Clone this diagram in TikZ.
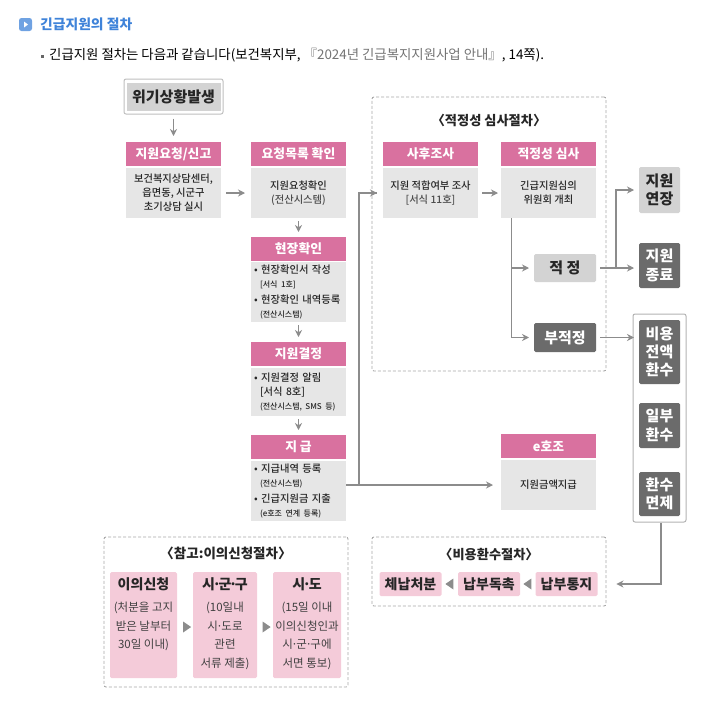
\documentclass[tikz,border=0pt]{standalone}
\usepackage{fontspec}
\setmainfont{Noto Sans CJK KR}
\newfontfamily\medfont{Noto Sans CJK KR Medium}
\usepackage{xcolor}
\usetikzlibrary{arrows.meta,positioning,shapes.geometric}
\definecolor{rosehd}{HTML}{D9719F}
\definecolor{graybd}{HTML}{E6E6E6}
\definecolor{graylt}{HTML}{D3D3D3}
\definecolor{graydk}{HTML}{6B6B6B}
\definecolor{linegr}{HTML}{8C8C8C}
\definecolor{rosebx}{HTML}{F4CBD9}
\definecolor{bluehd}{HTML}{3F83D9}
\newcommand{\fs}[1]{\fontsize{#1}{1.35\dimexpr#1pt\relax}\selectfont}
\newcommand{\mdot}{\kern-2.5pt·\kern-2.5pt}
\newcommand{\sdot}{\kern-1.5pt·\kern-1.5pt}

\begin{document}
\begin{tikzpicture}[x=1pt,y=-1pt,>={Stealth[length=7pt,width=7pt]},node distance=2pt,
  head/.style={fill=rosehd,text=white,font=\fs{12.8}\bfseries,minimum width=95pt,minimum height=24pt,inner sep=0pt,outer sep=0pt},
  body/.style={fill=graybd,text=black!85,font=\medfont\fs{10.3},minimum width=95pt,align=center,inner sep=0pt,outer sep=0pt},
  note/.style={body,align=left,text width=89pt,inner xsep=3pt},
  light/.style={fill=graylt,rounded corners=1.5pt,text=black!85,font=\fs{15}\bfseries,align=center,inner sep=0pt,outer sep=0pt},
  dark/.style={fill=graydk,rounded corners=1.5pt,text=white,font=\fs{15}\bfseries,align=center,inner sep=0pt,outer sep=0pt},
  dashbox/.style={draw=black!35,densely dashed,line width=.9pt,rounded corners=2pt,inner sep=0pt},
  title/.style={font=\fs{13.2}\bfseries,text=black!85,inner sep=0pt},
  rosebox/.style={fill=rosebx,rounded corners=1.5pt,align=center,text=black!85,inner sep=0pt,outer sep=0pt},
  tri/.style={isosceles triangle,isosceles triangle stretches,fill=linegr,minimum height=8pt,minimum width=11pt,inner sep=0pt},
  flow/.style={->,draw=linegr,line width=1.1pt}]
\useasboundingbox (0,0) rectangle (710,707);
% heading
\node[fill=bluehd!75,rounded corners=2.5pt,minimum size=13pt,inner sep=0pt] (icon) at (25.5,24.5) {};
\node[fill=white,isosceles triangle,isosceles triangle stretches,minimum height=4pt,minimum width=6pt,inner sep=0pt] (icontip) at (icon) {};
\node[anchor=west,inner sep=0pt,text=bluehd,font=\fs{13.8}\bfseries] (head1) at (40,24) {긴급지원의 절차};
\node[fill=black!60,minimum size=3pt,inner sep=0pt] (dot1) at (42.5,56) {};
\node[anchor=west,inner sep=0pt,font=\fs{13.4}] (line1) at (49,55) {긴급지원 절차는 다음과 같습니다(보건복지부, \textcolor{black!55}{『2024년 긴급복지지원사업 안내』}, 14쪽).};
% left column
\node[fill=white,draw=black!25,line width=1pt,rounded corners=2pt,minimum width=99pt,minimum height=35pt,inner sep=0pt] (crisisbg) at (173.5,96.5) {};
\node[fill=graylt,minimum width=94pt,minimum height=28pt,inner sep=0pt,font=\fs{15}\bfseries,text=black!85] (crisis) at (crisisbg) {위기상황발생};
\node[head] (req) at (173.5,154) {지원요청/신고};
\node[body,minimum height=50pt,below=2pt of req] (reqb) {보건복지상담센터,\\읍면동, 시군구\\초기상담 실시};
\node[head,right=30pt of req] (list) {요청목록 확인};
\node[body,minimum height=50pt,below=2pt of list] (listb) {지원요청확인\\{\color{black!70}(전산시스템)}};
\node[head,below=19pt of listb] (site) {현장확인};
\node[note,minimum height=60pt,below=1pt of site] (siteb) {• 현장확인서 작성\\\hspace*{6pt}{\fs{8}[서식 1호]}\\[1.5pt]• 현장확인 내역등록\\\hspace*{6pt}{\fs{8}(전산시스템)}};
\node[head,below=20pt of siteb] (decide) {지원결정};
\node[note,minimum height=48pt,below=2pt of decide] (decideb) {• 지원결정 알림\\\hspace*{6pt}[서식 8호]\\\hspace*{6pt}{\fs{8}(전산시스템, SMS 등)}};
\node[head,below=19pt of decideb] (pay) {지 급};
\node[note,minimum height=60pt,below=2pt of pay] (payb) {• 지급내역 등록\\\hspace*{6pt}{\fs{8}(전산시스템)}\\[1.5pt]• 긴급지원금 지출\\\hspace*{6pt}{\fs{8}(e호조 연계 등록)}};
% review group
\node[dashbox,minimum width=234pt,minimum height=274pt] (review) at (489,234) {};
\node[title] (reviewt) at (489,120) {〈적정성 심사절차〉};
\node[head] (check) at (430.5,154) {사후조사};
\node[body,minimum height=50pt,below=2pt of check] (checkb) {지원 적합여부 조사\\{\color{black!70}[서식 11호]}};
\node[head,right=23pt of check] (exam) {적정성 심사};
\node[body,minimum height=50pt,below=2pt of exam] (examb) {긴급지원심의\\위원회 개최};
\node[light,minimum width=62pt,minimum height=28pt] (fit) at (565,268) {적 정};
\node[dark,minimum width=62pt,minimum height=29pt] (unfit) at (565,337.5) {부적정};
\node[head] (ehead) at (548.5,446) {e호조};
\node[body,minimum height=50pt,below=2pt of ehead] (ebody) {지원금액지급};
% outcomes
\node[light,minimum width=41pt,minimum height=46pt] (extend) at (659.5,190) {지원\\[-2pt]연장};
\node[dark,minimum width=41pt,minimum height=45pt] (finish) at (659.5,265.5) {지원\\[-2pt]종료};
\node[draw=black!30,line width=1pt,rounded corners=2pt,minimum width=53pt,minimum height=208pt,inner sep=0pt] (backbox) at (659.5,418) {};
\node[dark,minimum width=41pt,minimum height=64pt] (fullback) at (659.5,352) {비용\\[-2pt]전액\\[-2pt]환수};
\node[dark,minimum width=41pt,minimum height=45pt] (partback) at (659.5,425.5) {일부\\[-2pt]환수};
\node[dark,minimum width=41pt,minimum height=44pt] (waive) at (659.5,494) {환수\\[-2pt]면제};
% appeal group
\node[dashbox,minimum width=244pt,minimum height=150pt] (appeal) at (226,612) {};
\node[title,font=\fs{13.5}\bfseries] (appealt) at (226,553) {〈참고:이의신청절차〉};
\node[rosebox,minimum width=67pt,minimum height=106pt] (obj) at (143.5,625) {};
\node[rosebox,minimum width=64pt,minimum height=106pt] (city) at (225,625) {};
\node[rosebox,minimum width=68pt,minimum height=106pt] (prov) at (307,625) {};
\node[font=\fs{14}\bfseries,text=black!85,inner sep=0pt] (objt) at (143.5,584) {이의신청};
\node[font=\fs{14}\bfseries,text=black!85,inner sep=0pt] (cityt) at (225,584) {시\mdot 군\mdot 구};
\node[font=\fs{14}\bfseries,text=black!85,inner sep=0pt] (provt) at (307,584) {시\mdot 도};
\node[align=center,font=\fs{11.5},text=black!75,inner sep=0pt,below=11pt of objt] (objb) {(처분을 고지\\[3pt]받은 날부터\\[3pt]30일 이내)};
\node[align=center,font=\fs{11.5},text=black!75,inner sep=0pt,below=11pt of cityt] (cityb) {(10일내\\[3pt]시\sdot 도로\\[3pt]관련\\[3pt]서류 제출)};
\node[align=center,font=\fs{11.5},text=black!75,inner sep=0pt,below=11pt of provt] (provb) {(15일 이내\\[3pt]이의신청인과\\[3pt]시\sdot 군\sdot 구에\\[3pt]서면 통보)};
\node[tri] (tri1) at (186,627) {};
\node[tri] (tri2) at (265.5,627) {};
% refund group
\node[dashbox,minimum width=234pt,minimum height=69pt] (refund) at (489,571.5) {};
\node[title] (refundt) at (489,554) {〈비용환수절차〉};
\node[rosebox,font=\fs{14}\bfseries,minimum width=62pt,minimum height=24pt] (arrears) at (410.5,584) {체납처분};
\node[rosebox,font=\fs{14}\bfseries,minimum width=62pt,minimum height=24pt] (urge) at (489,584) {납부독촉};
\node[rosebox,font=\fs{14}\bfseries,minimum width=62pt,minimum height=24pt] (notice) at (566.5,584) {납부통지};
\node[tri,shape border rotate=180] (tri3) at (450.5,584) {};
\node[tri,shape border rotate=180] (tri4) at (528.5,584) {};
% connectors
\draw[flow] ([yshift=-4pt]crisisbg.south) -- ([yshift=6pt]req.north);
\draw[flow] ([xshift=5pt]reqb.east) -- ([xshift=-6pt]listb.west);
\draw[flow] ([yshift=-3pt]listb.south) -- ([yshift=5pt]site.north);
\draw[flow] ([yshift=-3pt]siteb.south) -- ([yshift=5pt]decide.north);
\draw[flow] ([yshift=-3pt]decideb.south) -- ([yshift=5pt]pay.north);
\coordinate (paytap) at (payb.east |- ebody.west);
\coordinate (trunk) at (359,0);
\draw[flow] (paytap) -- ([xshift=-8pt]ebody.west);
\draw[flow,-] (trunk |- paytap) |- ([xshift=-6pt]checkb.west);
\draw[flow] (trunk |- checkb.west) -- ([xshift=-6pt]checkb.west);
\draw[flow] ([xshift=4pt]checkb.east) -- ([xshift=-3pt]examb.west);
\coordinate (examtap) at ([xshift=-37pt]examb.south);
\draw[flow,-] (examtap) -- (examtap |- unfit);
\draw[flow] (examtap |- fit) -- ([xshift=-5pt]fit.west);
\draw[flow] (examtap |- unfit) -- ([xshift=-5pt]unfit.west);
\draw[flow] ([xshift=4pt]fit.east) -- ([xshift=-5pt]finish.west |- fit);
\coordinate (fork) at (616,0);
\draw[flow] (fork |- fit) |- ([xshift=-5pt]extend.west);
\draw[flow] ([xshift=4pt]unfit.east) -- ([xshift=-5pt]fullback.west |- unfit);
\coordinate (backtap) at ([xshift=1.5pt]backbox.south);
\draw[flow] (backtap) |- ([xshift=10pt]refund.east |- notice);
\end{tikzpicture}
\end{document}
